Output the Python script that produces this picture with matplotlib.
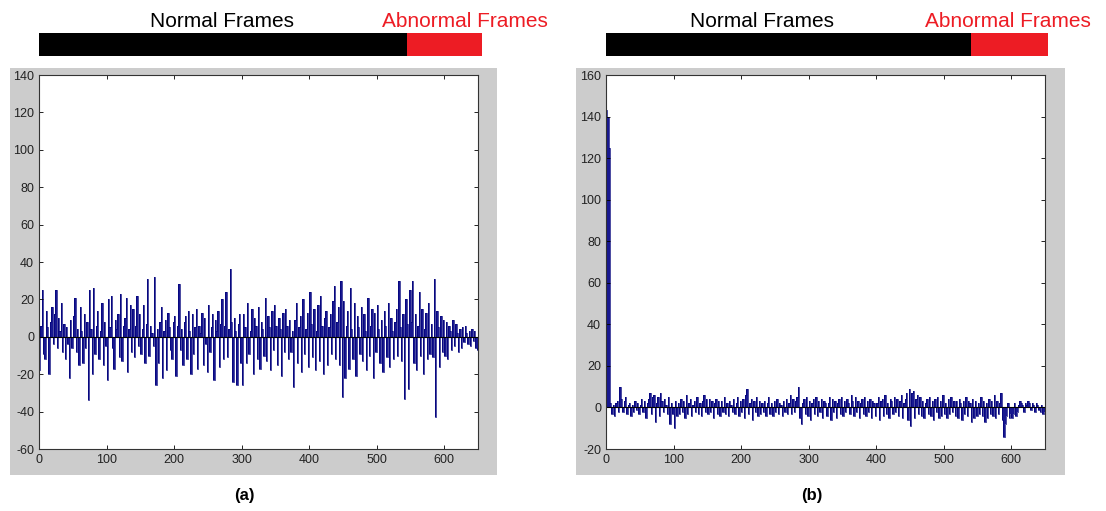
import numpy as np
import matplotlib
matplotlib.use("Agg")
import matplotlib.pyplot as plt
from matplotlib.patches import Rectangle

plt.rcParams['font.family'] = ['Liberation Sans', 'DejaVu Sans']
plt.rcParams['axes.unicode_minus'] = False

# frame index (every 2nd frame)
frames = list(range(0, 650, 2))

# panel (a) signal
signal_a = [
    -18, 6, 25, -9, -12, 14, 5, -20, 8, 16, -4, 12, 25, -6, 10, 3, 18, -8, 7, -12, 5, -4, -22, 9, -6,
    11, 21, -8, 4, -15, 16, 3, -14, 12, -6, 8, -34, 25, 4, -20, 26, -9, 6, 14, -12, 3, 18, -15, 8, -5,
    -23, 20, 5, 22, -6, -17, 9, 4, 12, -11, 23, -13, 6, 10, 21, -19, 4, 17, -8, 15, -11, 6, 22, -5, 12,
    -9, 4, 17, -14, 7, 31, -10, 6, 2, -5, 32, -26, 4, -14, 8, 16, -22, 3, 9, -18, 13, 5, -7, -12, 8,
    11, -21, 6, 28, -7, 4, -15, 8, 11, -12, 14, 3, -20, 12, -9, 5, 15, -17, 6, 2, 13, -15, 10, -4, -19,
    17, -8, 5, 12, -23, 9, 3, 14, -16, 7, 20, -12, 6, 24, -11, 4, 36, 8, -24, 10, 3, -26, 7, 12, -14,
    -26, 12, 5, -14, 18, -9, 3, 15, -20, 10, 6, -12, 16, -17, 8, 4, -10, 21, -13, 11, 5, -18, 14, -7, 17,
    6, -15, 10, 4, -21, 13, -8, 15, 6, -12, 9, -8, 3, -27, 9, 18, -14, 5, 11, -19, 20, -9, 4, 13, -16,
    24, 7, -11, 15, -18, 3, 17, -13, 22, 6, -20, 10, 14, -15, 5, 12, -9, 19, 27, -12, 8, 16, -15, 30, -32,
    19, -22, 6, 14, -17, 26, 4, -12, 18, -21, 11, 5, -9, 16, -13, 12, 3, -18, 21, -10, 6, 15, -22, 13, -8,
    17, 4, -14, 9, -19, 14, 6, -11, 18, -16, 10, 3, -12, 8, 15, -10, 30, 5, -13, 12, -33, 20, 7, -28, 25,
    8, 30, -14, 12, -18, 6, 24, -10, 15, -20, 4, 13, -12, 18, -9, 7, -11, 31, -43, 14, 5, -16, 11, -8, 9,
    -10, 8, -12, 6, 3, -7, 9, -5, 7, 2, -8, 4, -6, 5, -3, 6, 2, -4, 3, -5, 4, -2, 3, -6, -7,
]

# panel (b) signal
signal_b = [
    143, 140, 125, 2, -3, 1, -4, 2, 3, -2, 10, 4, -2, 3, 5, -3, 1, 2, -4, 1, -2, 3, -1, 2, -3,
    1, 4, -2, 3, -5, 2, 4, 7, -3, 5, 6, -7, 2, 5, -4, 7, 3, -2, 4, 1, -3, 5, -8, 2, -3,
    -10, 3, -4, 2, -3, 4, -2, 3, -5, 6, -3, 2, 4, -4, 1, 3, -2, 5, -3, 2, -4, 3, 6, -2, 4,
    -3, 4, -2, 3, -5, 2, 4, -3, 3, -4, 3, -2, 5, -3, 2, -4, 3, 1, -2, 4, -3, 2, 5, -4, 3,
    -2, 4, -5, 6, 9, -3, 2, 4, -6, 3, -2, 5, -4, 3, -3, 2, -2, 3, -4, 2, 5, -3, 2, -4, 3,
    -2, 4, -3, 2, 1, -4, 3, -2, 4, -3, 2, 6, -3, 4, -2, 3, 5, 10, -5, -8, 2, 4, -3, 5, -4,
    3, -6, 2, 4, -3, 5, -4, 3, -2, 4, -5, 3, 2, -4, 2, 5, -6, 4, -2, 3, -5, 2, 4, -3, 5,
    -4, 3, -2, 4, 2, -3, 6, 3, -4, 5, -2, 3, -5, 2, 4, -3, 5, -4, 3, -2, 4, -5, 3, 2, -4,
    2, 5, -6, 3, 4, -4, 6, -3, 2, -5, 4, 3, -3, 5, -2, 4, -4, 3, 6, -5, 2, 4, 7, -6, 9,
    -9, 7, 8, -5, 4, 6, -3, 5, -4, 3, -5, 2, 4, -3, 5, -4, 3, -6, 4, -2, 5, -5, 3, -4, 6,
    -3, 2, -5, 4, -3, 5, -2, 3, -4, 3, -5, 4, 2, -6, 3, -3, 5, -4, 3, 2, -7, 4, -5, 3, -4,
    2, -3, 5, -4, 3, -7, 2, -5, 4, -3, 3, -4, 6, -5, 3, -3, 2, 7, -6, -14, -8, -4, 2, -5, -3,
    -5, -3, 2, -4, -2, 1, 3, 2, 1, -2, 2, 1, 3, 2, -1, 2, 1, -2, 2, 1, -1, -2, 1, -3, -2,
]

# normal / abnormal frame ranges for the banners
normal_end = [545, 540]
last_frame = 655

ylims = [(-60, 140), (-20, 160)]
yticks = [range(-60, 141, 20), range(-20, 161, 20)]
labels = ["(a)", "(b)"]

fig = plt.figure(figsize=(11.06, 5.11), dpi=100)
fig.patch.set_facecolor("white")

panel_left = [0.0353, 0.5479]
gray_left = [0.009, 0.5208]
gray_w = [0.4403, 0.4421]
normal_text_x = [271, 231]
abnormal_text_x = [631, 595]

edges = np.append(frames, frames[-1] + 2)

for i, sig in enumerate([signal_a, signal_b]):
    fig.patches.append(Rectangle((gray_left[i], 0.0705), gray_w[i], 0.7965,
                                 transform=fig.transFigure, facecolor="#cccccc",
                                 edgecolor="none", zorder=-5))

    ax = fig.add_axes([panel_left[i], 0.1213, 0.397, 0.7319])
    ax.set_zorder(2)
    ax.stairs(sig, edges, baseline=0, fill=True, color="#181890", linewidth=0)
    ax.stairs(sig, edges, baseline=0, color="#00007a", linewidth=0.5)
    ax.axhline(0, color="black", linewidth=0.8)
    ax.set_xlim(0, 650)
    ax.set_ylim(*ylims[i])
    ax.set_xticks(range(0, 601, 100))
    ax.set_yticks(list(yticks[i]))
    ax.tick_params(direction="in", top=True, right=True, labelsize=9,
                   labelcolor="#222222", length=3, width=0.6)
    for s in ax.spines.values():
        s.set_linewidth(0.8)
        s.set_color("#333333")

    # banner above the plot, sharing the frame scale
    bx = fig.add_axes([panel_left[i], 0.8904, 0.397, 0.045])
    bx.barh(0, normal_end[i], left=0, height=1, color="black", clip_on=False)
    bx.barh(0, last_frame - normal_end[i], left=normal_end[i], height=1,
            color="#ed1c24", clip_on=False)
    bx.set_xlim(0, 650)
    bx.set_ylim(-0.5, 0.5)
    bx.axis("off")
    bx.text(normal_text_x[i], 0.6, "Normal Frames", ha="center", va="bottom",
            fontsize=15, color="black")
    bx.text(abnormal_text_x[i], 0.6, "Abnormal Frames", ha="center", va="bottom",
            fontsize=15, color="#ed1c24")

    fig.text(panel_left[i] + 0.186, 0.031, labels[i], ha="center", va="center",
             fontsize=12, fontweight="bold")

plt.savefig("out.png", dpi=100)
